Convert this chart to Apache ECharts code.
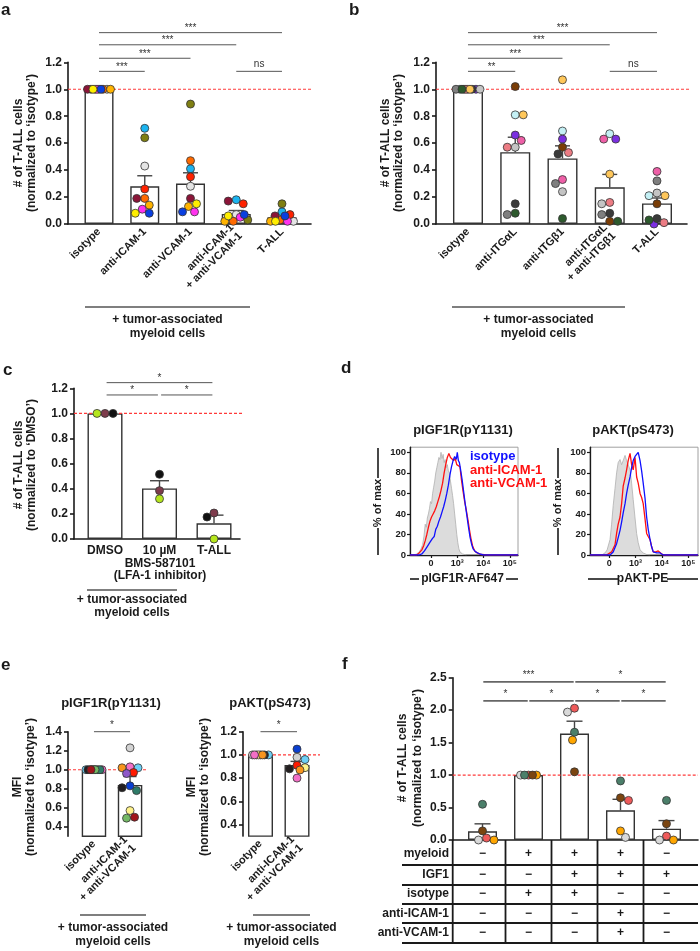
<!DOCTYPE html>
<html><head><meta charset="utf-8">
<script src="https://cdn.jsdelivr.net/npm/echarts@6/dist/echarts.min.js"></script>
<style>html,body{margin:0;padding:0;background:#fff}#c{width:700px;height:951px}</style>
</head><body><div id="c"></div>
<script>
// ---------------- DATA ----------------
// panel a
const aNames = ['isotype','anti-ICAM-1','anti-VCAM-1','anti-ICAM-1\n+ anti-VCAM-1','T-ALL'];
const aSampleColors = ['#1cb4f0','#7f7f12','#e4e4e4','#ff2200','#ff6a00','#8b1538','#ffb300','#ff33ee','#0a3fe0','#ffee00'];
const aIsotype = [1,1,1,1,1,1,1,1,1,1];
const aICAM = [0.71,0.64,0.43,0.26,0.19,0.19,0.14,0.11,0.08,0.08];
const aVCAM = [0.41,0.89,0.28,0.35,0.47,0.19,0.13,0.09,0.09,0.15];
const aCombo = [0.18,0.03,0.07,0.15,0.02,0.17,0.02,0.05,0.07,0.06];
const aTALL = [0.09,0.15,0.02,0.07,0.03,0.06,0.02,0.02,0.06,0.02];
const aMeans = [1.0,0.28,0.30,0.075,0.05];
const aSEM = [0,0.078,0.08,0.025,0.02];
const aSigPairs = [[0,1],[0,2],[0,3],[0,4],[3,4]];
const aSigY = [1.133,1.23,1.33,1.42,1.133];
const aSigText = ['***','***','***','***','ns'];

// panel b
const bNames = ['isotype','anti-ITGαL','anti-ITGβ1','anti-ITGαL\n+ anti-ITGβ1','T-ALL'];
const bSampleColors = ['#ee5fa7','#c4f0f5','#7b2fe0','#7a3d06','#3a3a3a','#7f7f7f','#c4c4c4','#ec7c84','#ffc75a','#2d5a2d'];
const bIsotype = [1,1,1,1,1,1,1,1,1,1];
const bITGaL = [0.62,0.81,0.66,1.02,0.15,0.07,0.57,0.57,0.81,0.08];
const bITGb1 = [0.33,0.69,0.63,0.57,0.52,0.30,0.24,0.53,1.07,0.04];
const bCombo = [0.63,0.67,0.63,0.02,0.08,0.07,0.15,0.16,0.37,0.02];
const bTALL = [0.39,0.21,0.0,0.15,0.04,0.32,0.23,0.01,0.21,0.03];
const bMeans = [1.0,0.533,0.487,0.272,0.153];
const bSEM = [0,0.111,0.093,0.096,0.04];
const bSigPairs = [[0,1],[0,2],[0,3],[0,4],[3,4]];
const bSigY = [1.133,1.23,1.33,1.42,1.133];
const bSigText = ['**','***','***','***','ns'];

// panel c
const cNames = ['DMSO','10 µM','T-ALL'];
const cSubLabel = ['BMS-587101','(LFA-1 inhibitor)'];
const cSampleColors = ['#7d3b4b','#b5e61d','#111111'];
const cDMSO = [1,1,1];
const cBMS = [0.385,0.32,0.515];
const cTALL = [0.207,0.0,0.175];
const cMeans = [1.0,0.403,0.125];
const cSEM = [0,0.061,0.065];
const cSigPairs = [[0,2],[0,1],[1,2]];
const cSigY = [1.245,1.147,1.147];
const cSigText = ['*','*','*'];

// panel d (flow histograms; x in decades: 0, 10^3, 10^4, 10^5)
const dTickLabels = ['0','10³','10⁴','10⁵'];
const dIGF1R_gray = [[-0.65,0],[-0.55,1],[-0.45,3],[-0.38,6],[-0.32,10],[-0.27,18],[-0.22,30],[-0.18,27],[-0.14,36],[-0.10,40],[-0.06,45],[-0.02,52],[0.02,50],[0.06,60],[0.10,66],[0.14,72],[0.18,80],[0.22,85],[0.26,90],[0.30,95],[0.34,93],[0.38,100],[0.42,94],[0.46,98],[0.50,90],[0.54,93],[0.58,85],[0.62,88],[0.66,82],[0.70,80],[0.74,72],[0.78,65],[0.82,58],[0.86,50],[0.90,40],[0.94,30],[0.98,20],[1.02,12],[1.06,6],[1.10,3],[1.20,1],[1.35,0]];
const dIGF1R_red = [[-0.8,0],[-0.55,0],[-0.45,2],[-0.35,5],[-0.28,9],[-0.22,14],[-0.16,20],[-0.10,27],[-0.04,33],[0.02,37],[0.08,40],[0.14,43],[0.20,47],[0.26,52],[0.32,57],[0.38,63],[0.44,70],[0.50,80],[0.56,88],[0.62,95],[0.68,99],[0.74,95],[0.80,96],[0.86,92],[0.92,94],[0.98,88],[1.04,89],[1.10,86],[1.16,73],[1.22,62],[1.28,52],[1.34,44],[1.40,35],[1.46,25],[1.52,16],[1.58,9],[1.66,4],[1.76,2],[1.90,0.5],[2.2,0],[3.31,0]];
const dIGF1R_blue = [[-0.8,0],[-0.45,0],[-0.35,1],[-0.25,4],[-0.15,8],[-0.05,12],[0.05,16],[0.12,18],[0.18,25],[0.24,28],[0.30,33],[0.36,37],[0.42,42],[0.48,47],[0.54,53],[0.60,60],[0.66,68],[0.72,78],[0.78,86],[0.84,92],[0.90,96],[0.96,93],[1.00,100],[1.04,92],[1.08,90],[1.12,84],[1.18,74],[1.24,62],[1.30,50],[1.36,39],[1.42,28],[1.48,18],[1.54,11],[1.60,6],[1.70,3],[1.85,1],[2.0,0],[3.31,0]];
const dAKT_gray = [[-0.29,0],[-0.16,2],[-0.08,5],[0.03,15],[0.09,30],[0.15,48],[0.22,65],[0.28,80],[0.34,90],[0.41,93],[0.47,88],[0.53,92],[0.60,97],[0.66,92],[0.72,88],[0.79,83],[0.85,70],[0.91,54],[0.98,36],[1.04,21],[1.10,12],[1.17,5],[1.29,2],[1.42,0.5],[1.55,0]];
const dAKT_red = [[-0.73,0],[-0.10,0],[0.09,3],[0.22,10],[0.28,21],[0.34,30],[0.41,37],[0.47,50],[0.53,67],[0.60,75],[0.66,83],[0.72,92],[0.79,99],[0.85,88],[0.91,83],[0.98,95],[1.04,76],[1.10,70],[1.17,60],[1.23,56],[1.29,50],[1.36,35],[1.42,21],[1.48,18],[1.55,15],[1.61,8],[1.67,3],[1.77,3],[1.86,4],[1.95,2],[2.05,0],[3.37,0]];
const dAKT_blue = [[-0.73,0],[0.03,0],[0.15,3],[0.28,11],[0.34,17],[0.41,24],[0.47,32],[0.53,41],[0.60,50],[0.66,60],[0.72,68],[0.79,76],[0.85,85],[0.91,92],[0.98,96],[1.04,98],[1.10,100],[1.17,92],[1.23,82],[1.29,70],[1.36,55],[1.42,37],[1.48,25],[1.55,15],[1.61,8],[1.67,3],[1.80,2],[1.93,2],[2.05,0],[3.37,0]];

// panel e
const eNames = ['isotype','anti-ICAM-1\n+ anti-VCAM-1'];
const e1SampleColors = ['#d3d3d3','#6dcff6','#f36fc6','#f7941d','#ff1a00','#8e58c8','#0b3fd0','#231f20','#2e7b68','#fff28a','#74b865','#a0141a'];
const e1Isotype = [1,1,1,1,1,1,1,1,1,1,1,1];
const e1Combo = [1.23,1.02,1.03,1.02,0.97,0.96,0.83,0.81,0.78,0.57,0.49,0.50];
const e1Means = [1.0,0.84];
const e1SEM = [0,0.088];
const e2SampleColors = ['#0b3fd0','#d3d3d3','#6dcff6','#ff1a00','#231f20','#fff28a','#f7941d','#f36fc6'];
const e2Isotype = [1,1,1,1,1,1,1,1];
const e2Combo = [1.05,0.98,0.96,0.91,0.88,0.89,0.87,0.80];
const e2Means = [1.0,0.914];
const e2SEM = [0,0.03];
const eSigPairs = [[0,1]];
const e1SigY = [1.4];
const e2SigY = [1.2];
const eSigText = ['*'];

// panel f
const fSampleColors = ['#ef5a5a','#d9d9d9','#ffa600','#4b7f6a','#7b4510'];
const fG1 = [0.03,0.0,0.0,0.55,0.14];
const fG2 = [1,1,1,1,1];
const fG3 = [2.03,1.97,1.54,1.66,1.05];
const fG4 = [0.61,0.04,0.14,0.91,0.65];
const fG5 = [0.06,0.0,0.0,0.61,0.25];
const fMeans = [0.134,1.0,1.64,0.457,0.174];
const fSEM = [0.115,0,0.19,0.17,0.125];
const fSigPairs = [[0,2],[2,4],[0,1],[1,2],[2,3],[3,4]];
const fSigY = [2.435,2.435,2.143,2.143,2.143,2.143];
const fSigText = ['***','*','*','*','*','*'];
const fRowNames = ['myeloid','IGF1','isotype','anti-ICAM-1','anti-VCAM-1'];
const fMyeloid = ['−','+','+','+','−'];
const fIGF1 = ['−','−','+','+','+'];
const fIsotypeRow = ['−','+','+','−','−'];
const fICAMRow = ['−','−','−','+','−'];
const fVCAMRow = ['−','−','−','+','−'];

// ---------------- BUILD ----------------
const FONT = '"Liberation Sans", Arial, Helvetica, sans-serif';
const BLACK = '#1a1a1a';
const REFRED = '#ff3a3a';
const grids=[], xAxes=[], yAxes=[], series=[], graphics=[];

function txt(x,y,s,o){o=o||{};graphics.push({type:'text',x:x,y:y,rotation:o.rot||0,silent:true,
  style:{text:s,fontFamily:FONT,fontWeight:o.weight||'bold',fontSize:o.size||12,fill:o.color||BLACK,
  align:o.align||'center',verticalAlign:o.va||'middle'}});}
function ln(x1,y1,x2,y2,o){o=o||{};graphics.push({type:'line',silent:true,shape:{x1:x1,y1:y1,x2:x2,y2:y2},
  style:{stroke:o.color||BLACK,lineWidth:o.w||1}});}

function swarm(vals,pxY,pxX,dot,maxHalf){
  const n=vals.length, off=new Array(n).fill(0), placed=[];
  const order=vals.map((v,i)=>i).sort((a,b)=>(vals[b]-vals[a])||(a-b));
  order.forEach((i,rank)=>{
    const y=vals[i]*pxY, sgn=rank%2?-1:1;
    const cands=[0]; for(let s=0.5;s<=maxHalf+1e-9;s+=0.5){cands.push(sgn*s,-sgn*s);}
    let pick=null, fb=0, fbd=-1;
    for(const x of cands){
      let md=Infinity; for(const p of placed){const d=Math.hypot(p.x-x,p.y-y); if(d<md) md=d;}
      if(md>=dot){pick=x;break;}
      if(md>fbd+1e-9){fbd=md;fb=x;}
    }
    if(pick===null) pick=fb;
    placed.push({x:pick,y:y}); off[i]=pick/pxX;
  });
  return off;
}

function barPanel(P){
  const gi=grids.length;
  grids.push({left:P.left,top:P.top,width:P.width,height:P.height,containLabel:false,outerBoundsMode:'none',show:false});
  const pxY=P.height/(P.ymax-P.ymin), pxX=P.width/(P.xmax-P.xmin);
  xAxes.push({gridIndex:gi,type:'value',min:P.xmin,max:P.xmax,splitLine:{show:false},
    axisLine:{show:P.xLine!==false,onZero:false,lineStyle:{color:BLACK,width:1.6}},
    axisTick:{show:false},
    axisLabel:{show:!!P.names,customValues:P.names?P.names.map((n,i)=>i):[],hideOverlap:false,
      showMinLabel:true,showMaxLabel:true,
      formatter:v=>P.names?(P.names[Math.round(v)]||''):'',rotate:P.rot||0,fontFamily:FONT,fontWeight:'bold',
      fontSize:P.xfs||11,color:BLACK,margin:P.xmargin||6,lineHeight:P.xlh||12}});
  yAxes.push({gridIndex:gi,type:'value',min:P.ymin,max:P.ymax,splitLine:{show:false},
    axisLine:{show:true,onZero:false,lineStyle:{color:BLACK,width:1.6}},
    axisTick:{show:true,length:4,customValues:P.yTicks,lineStyle:{color:BLACK,width:1.6}},
    axisLabel:{customValues:P.yTicks,formatter:v=>v.toFixed(1),fontFamily:FONT,fontWeight:'bold',fontSize:12,color:BLACK,margin:6}});
  series.push({type:'bar',xAxisIndex:gi,yAxisIndex:gi,barWidth:P.barW,silent:true,z:2,
    data:P.means.map((m,i)=>[i,m]),itemStyle:{color:'#ffffff',borderColor:'#333',borderWidth:1.4}});
  // reference (normalisation) line at 1.0
  const xEnd=P.xmax+(P.refExtra||0)/pxX;
  series.push({type:'line',xAxisIndex:gi,yAxisIndex:gi,silent:true,z:5,clip:false,showSymbol:false,symbol:'none',
    data:[[P.xmin,1],[xEnd,1]],color:REFRED,itemStyle:{color:REFRED},
    lineStyle:{color:REFRED,width:1.1,type:[3,2],opacity:1}});
  series.push({type:'custom',xAxisIndex:gi,yAxisIndex:gi,clip:false,silent:true,z:3,
    data:P.means.map((m,i)=>[i,m,P.sems[i]]),
    renderItem:(params,api)=>{const x=api.value(0),m=api.value(1),s=api.value(2);
      if(!s) return {type:'group',children:[]};
      const a=api.coord([x,m]), b=api.coord([x,m+s]), h=P.cap/2;
      return {type:'group',children:[
        {type:'line',shape:{x1:a[0],y1:a[1],x2:b[0],y2:b[1]},style:{stroke:'#444',lineWidth:1.4}},
        {type:'line',shape:{x1:b[0]-h,y1:b[1],x2:b[0]+h,y2:b[1]},style:{stroke:'#444',lineWidth:1.4}}]};}});
  const pts=[];
  P.groups.forEach((vals,g)=>{
    const offs=swarm(vals,pxY,pxX,P.dot,P.barW/2-P.dot/2+1);
    vals.forEach((v,k)=>pts.push({value:[g+offs[k],v],itemStyle:{color:P.colors[k]}}));
  });
  series.push({type:'scatter',xAxisIndex:gi,yAxisIndex:gi,symbolSize:P.dot,clip:false,silent:true,z:6,
    data:pts,itemStyle:{borderColor:'#333',borderWidth:0.8,opacity:1}});
  if(P.sigPairs){
    series.push({type:'custom',xAxisIndex:gi,yAxisIndex:gi,clip:false,silent:true,z:3,
      data:P.sigPairs.map((pr,k)=>[pr[0],pr[1],P.sigY[k],k]),
      renderItem:(params,api)=>{
        const y=api.value(2), a=api.coord([api.value(0),y]), b=api.coord([api.value(1),y]);
        const g=P.sigGap||0, t=P.sigText[api.value(3)];
        const adj=/\*/.test(t)?2.5:0;
        return {type:'group',children:[
          {type:'line',shape:{x1:a[0]+g,y1:a[1],x2:b[0]-g,y2:b[1]},style:{stroke:P.sigColor||'#555',lineWidth:P.sigW||1}},
          {type:'text',style:{x:(a[0]+b[0])/2,y:a[1]-P.sigDy+adj,text:t,fontFamily:FONT,fontSize:P.sigFs||10,
            fill:'#333',align:'center',verticalAlign:'middle'}}]};}});
  }
  return gi;
}

function histPanel(D){
  const gi=grids.length;
  grids.push({left:D.left,top:D.top,width:D.width,height:D.height,show:true,borderColor:'#a0a0a0',borderWidth:1,
    backgroundColor:'transparent',containLabel:false,outerBoundsMode:'none'});
  xAxes.push({gridIndex:gi,type:'value',min:D.xmin,max:D.xmax,splitLine:{show:false},
    axisLine:{onZero:false,lineStyle:{color:BLACK,width:1.3}},
    axisTick:{customValues:[0,1,2,3],length:3,lineStyle:{color:BLACK,width:1.2}},
    axisLabel:{customValues:[0,1,2,3],formatter:v=>dTickLabels[Math.round(v)],fontFamily:FONT,fontWeight:'bold',fontSize:9,color:BLACK,margin:4}});
  yAxes.push({gridIndex:gi,type:'value',min:0,max:105,splitLine:{show:false},
    axisLine:{onZero:false,lineStyle:{color:BLACK,width:1.3}},
    axisTick:{customValues:[0,20,40,60,80,100],length:3,lineStyle:{color:BLACK,width:1.2}},
    axisLabel:{customValues:[0,20,40,60,80,100],fontFamily:FONT,fontWeight:'bold',fontSize:9.5,color:BLACK,margin:4}});
  series.push({type:'line',xAxisIndex:gi,yAxisIndex:gi,data:D.gray,showSymbol:false,silent:true,z:1,
    lineStyle:{color:'#b0b0b0',width:0.8},areaStyle:{color:'#dcdcdc',opacity:1}});
  series.push({type:'line',xAxisIndex:gi,yAxisIndex:gi,data:D.red,showSymbol:false,silent:true,z:2,
    lineStyle:{color:'#ff1010',width:1.3}});
  series.push({type:'line',xAxisIndex:gi,yAxisIndex:gi,data:D.blue,showSymbol:false,silent:true,z:3,
    lineStyle:{color:'#1010ff',width:1.3}});
  return gi;
}

// ---- panel a
barPanel({left:68,top:62.3,width:243,height:161.7,xmin:-0.678,xmax:4.634,ymin:0,ymax:1.2,refExtra:9,
  yTicks:[0,0.2,0.4,0.6,0.8,1.0,1.2],names:aNames,rot:45,xfs:11,xlh:12,xmargin:6,
  means:aMeans,sems:aSEM,groups:[aIsotype,aICAM,aVCAM,aCombo,aTALL],colors:aSampleColors,
  barW:29,dot:8,cap:15,sigPairs:aSigPairs,sigY:aSigY,sigText:aSigText,sigDy:7,sigFs:10});
// ---- panel b
barPanel({left:436,top:62.3,width:251,height:161.7,xmin:-0.677,xmax:4.635,ymin:0,ymax:1.2,refExtra:2,
  yTicks:[0,0.2,0.4,0.6,0.8,1.0,1.2],names:bNames,rot:45,xfs:11,xlh:12,xmargin:6,
  means:bMeans,sems:bSEM,groups:[bIsotype,bITGaL,bITGb1,bCombo,bTALL],colors:bSampleColors,
  barW:30,dot:8,cap:15,sigPairs:bSigPairs,sigY:bSigY,sigText:bSigText,sigDy:7,sigFs:10});
// ---- panel c
const cGrid=barPanel({left:74,top:388.3,width:166,height:150.7,xmin:-0.569,xmax:2.477,ymin:0,ymax:1.2,refExtra:10,
  yTicks:[0,0.2,0.4,0.6,0.8,1.0,1.2],names:cNames,rot:0,xfs:12,xlh:12.5,xmargin:5,
  means:cMeans,sems:cSEM,groups:[cDMSO,cBMS,cTALL],colors:cSampleColors,
  barW:35,dot:8,cap:19,sigPairs:cSigPairs,sigY:cSigY,sigText:cSigText,sigDy:7,sigGap:1.6,sigFs:10});
// ---- panel d
histPanel({left:410,top:447.2,width:108,height:107.8,xmin:-0.8,xmax:3.31,gray:dIGF1R_gray,red:dIGF1R_red,blue:dIGF1R_blue});
histPanel({left:590,top:447.2,width:108,height:107.8,xmin:-0.73,xmax:3.37,gray:dAKT_gray,red:dAKT_red,blue:dAKT_blue});
// ---- panel e
barPanel({left:68,top:731.7,width:79,height:104.5,xmin:-0.72,xmax:1.47,ymin:0.3,ymax:1.4,xLine:false,refExtra:0,
  yTicks:[0.4,0.6,0.8,1.0,1.2,1.4],names:eNames,rot:45,xfs:11,xlh:12,xmargin:6,
  means:e1Means,sems:e1SEM,groups:[e1Isotype,e1Combo],colors:e1SampleColors,
  barW:24.5,dot:8,cap:13,sigPairs:eSigPairs,sigY:e1SigY,sigText:eSigText,sigDy:9,sigFs:10});
barPanel({left:243,top:731.7,width:75,height:104.4,xmin:-0.479,xmax:1.575,ymin:0.3,ymax:1.2,xLine:false,refExtra:8,
  yTicks:[0.4,0.6,0.8,1.0,1.2],names:eNames,rot:45,xfs:11,xlh:12,xmargin:6,
  means:e2Means,sems:e2SEM,groups:[e2Isotype,e2Combo],colors:e2SampleColors,
  barW:25,dot:8,cap:13,sigPairs:eSigPairs,sigY:e2SigY,sigText:eSigText,sigDy:9,sigFs:10});
// ---- panel f
const F={left:452.7,top:677.7,width:245.3,height:162.3};
const fGrid=barPanel({left:F.left,top:F.top,width:F.width,height:F.height,xmin:-0.648,xmax:4.685,ymin:0,ymax:2.5,refExtra:0,
  yTicks:[0,0.5,1.0,1.5,2.0,2.5],names:null,
  means:fMeans,sems:fSEM,groups:[fG1,fG2,fG3,fG4,fG5],colors:fSampleColors,
  barW:29,dot:8,cap:16,sigPairs:fSigPairs,sigY:fSigY,sigText:fSigText,sigDy:9.5,sigGap:0.8,sigW:1.6,sigColor:'#666',sigFs:10});
// table under f
const fRowLine=[25,45,64,83,103], fRowMid=[14,35,54,74,93];
const fRowsSigns=[fMyeloid,fIGF1,fIsotypeRow,fICAMRow,fVCAMRow];
series.push({type:'custom',xAxisIndex:fGrid,yAxisIndex:fGrid,clip:false,silent:true,z:5,
  data:fMeans.map((m,i)=>[i,0]),
  renderItem:(params,api)=>{
    const i=api.value(0), c=api.coord([i,0]), lb=api.coord([i-0.5,0]);
    const ch=[];
    if(i>0) ch.push({type:'line',shape:{x1:lb[0],y1:c[1],x2:lb[0],y2:c[1]+fRowLine[4]},style:{stroke:BLACK,lineWidth:1.8}});
    fRowsSigns.forEach((row,r)=>ch.push({type:'text',style:{x:c[0],y:c[1]+fRowMid[r],text:row[i],fontFamily:FONT,
      fontWeight:'bold',fontSize:12,fill:BLACK,align:'center',verticalAlign:'middle'}}));
    return {type:'group',children:ch};}});
const fAxisY=F.top+F.height;
fRowLine.forEach(o=>ln(402,fAxisY+o,698,fAxisY+o,{w:1.8}));
ln(F.left,fAxisY,F.left,fAxisY+fRowLine[4],{w:1.8});
fRowNames.forEach((n,r)=>txt(449,fAxisY+fRowMid[r],n,{align:'right',size:12}));

// ---- text annotations
txt(1,10,'a',{align:'left',size:17});
txt(349,10,'b',{align:'left',size:17});
txt(3,370,'c',{align:'left',size:17});
txt(341,368,'d',{align:'left',size:17});
txt(1,665,'e',{align:'left',size:17});
txt(342,664,'f',{align:'left',size:17});
const R=Math.PI/2;
txt(19,143,'# of T-ALL cells',{rot:R});
txt(32,143,'(normalized to ‘isotype’)',{rot:R});
txt(386,143,'# of T-ALL cells',{rot:R});
txt(399,143,'(normalized to ‘isotype’)',{rot:R});
txt(19,465,'# of T-ALL cells',{rot:R});
txt(32,465,'(normalized to ‘DMSO’)',{rot:R});
txt(18,787,'MFI',{rot:R});
txt(31,787,'(normalized to ‘isotype’)',{rot:R});
txt(192,787,'MFI',{rot:R});
txt(205,787,'(normalized to ‘isotype’)',{rot:R});
txt(403,758,'# of T-ALL cells',{rot:R});
txt(418,758,'(normalized to ‘isotype’)',{rot:R});
// group labels
function grp(x1,x2,y){ln(x1,y,x2,y,{w:1.5,color:'#555'});txt((x1+x2)/2,y+13,'+ tumor-associated',{size:12});txt((x1+x2)/2,y+27,'myeloid cells',{size:12});}
grp(85,250,307);
grp(452,625,307);
txt(160,564,cSubLabel[0]); txt(160,576,cSubLabel[1]);
ln(87,590,177,590,{w:1.5,color:'#555'}); txt(132,600,'+ tumor-associated'); txt(132,613,'myeloid cells');
grp(80,146,915);
grp(253,310,915);
// d labels
txt(463,430,'pIGF1R(pY1131)',{size:13});
txt(633,430,'pAKT(pS473)',{size:13});
txt(470,456,'isotype',{align:'left',size:13,color:'#1010ff'});
txt(470,470,'anti-ICAM-1',{align:'left',size:13,color:'#ff1010'});
txt(470,483,'anti-VCAM-1',{align:'left',size:13,color:'#ff1010'});
[378,558].forEach(x=>{ln(x,448,x,478,{w:1.6});txt(x,503,'% of max',{rot:R,size:11});ln(x,528,x,555,{w:1.6});});
ln(410,579,419,579,{w:1.6}); txt(462.5,579,'pIGF1R-AF647',{size:12}); ln(506,579,518,579,{w:1.6});
ln(588,579,618,579,{w:1.6}); txt(642.5,579,'pAKT-PE',{size:12}); ln(667,579,698,579,{w:1.6});
// e titles
txt(111,703,'pIGF1R(pY1131)',{size:13});
txt(270,703,'pAKT(pS473)',{size:13});

const chart=echarts.init(document.getElementById('c'),null,{renderer:'canvas',width:700,height:951});
chart.setOption({animation:false,backgroundColor:'#ffffff',grid:grids,xAxis:xAxes,yAxis:yAxes,series:series,graphic:{elements:graphics}});
</script></body></html>
